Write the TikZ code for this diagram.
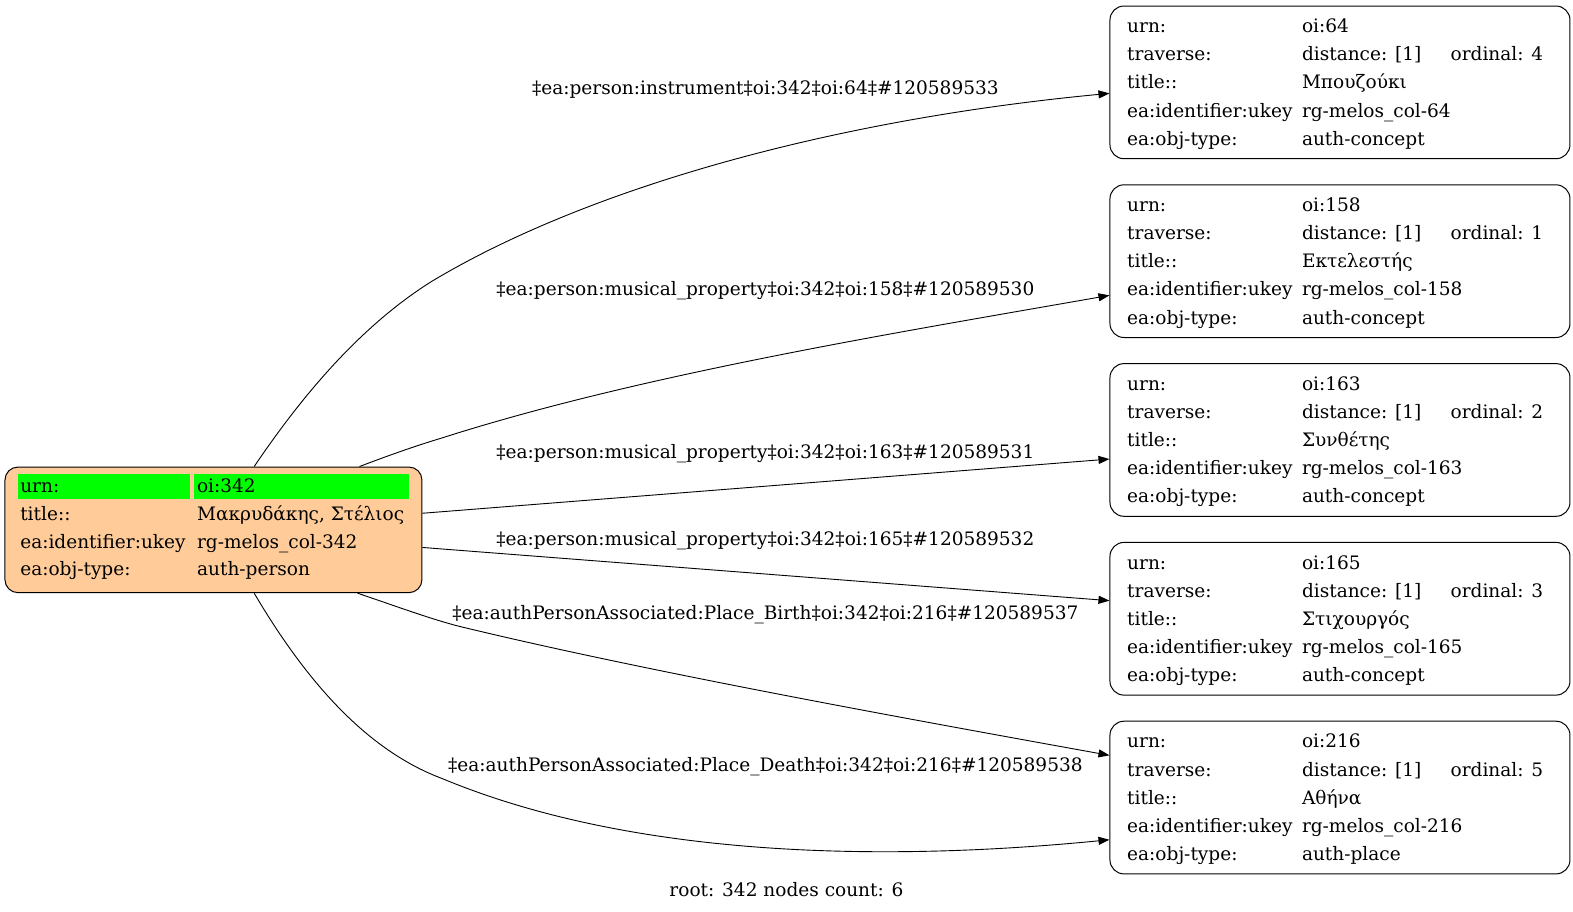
\documentclass[tikz,border=0pt]{standalone}
\usepackage{fontspec}
\setmainfont{DejaVu Serif}
\usetikzlibrary{arrows.meta}
\definecolor{peach}{HTML}{FFCC99}
\definecolor{cellgreen}{HTML}{00FF00}
\begin{document}
\begin{tikzpicture}[x=1.0045bp,y=-1.0045bp,
  txt/.style={inner sep=0pt,anchor=mid west,font=\fontsize{18.6}{22}\selectfont},
  lbl/.style={inner sep=0pt,anchor=mid,font=\fontsize{18.6}{22}\selectfont},
  rootbox/.style={draw=black,line width=1bp,fill=peach,rounded corners=13bp,minimum width=417bp,minimum height=125.6bp,inner sep=0pt},
  tbox/.style={draw=black,line width=1bp,rounded corners=14bp,minimum width=460bp,minimum height=152.7bp,inner sep=0pt},
  edge/.style={draw=black,line width=0.9bp,-{Triangle[length=11bp,width=8bp]}}]
\useasboundingbox (0,0) rectangle (1566,907);
% root
\node[rootbox] (root) at (212.5,527.5) {};
\fill[cellgreen] (18,472) rectangle (189,497);
\fill[cellgreen] (193,472) rectangle (407,497);
\node[txt] (r1a) at (20,488) {urn:};
\node[txt] (r1b) at (196,488) {oi:342};
\node[txt] (r2a) at (20,515.5) {title::};
\node[txt] (r2b) at (196,515.5) {Μακρυδάκης, Στέλιος};
\node[txt] (r3a) at (20,543) {ea:identifier:ukey};
\node[txt] (r3b) at (196,543) {rg-melos\_col-342};
\node[txt] (r4a) at (20,570.5) {ea:obj-type:};
\node[txt] (r4b) at (196,570.5) {auth-person};
% targets
\foreach \i/\oi/\ord/\ttl/\typ in {1/64/4/Μπουζούκι/auth-concept,2/158/1/Εκτελεστής/auth-concept,3/163/2/Συνθέτης/auth-concept,4/165/3/Στιχουργός/auth-concept,5/216/5/Αθήνα/auth-place}{
  \pgfmathsetmacro{\cy}{82+178*(\i-1)}
  \pgfmathsetmacro{\ty}{\cy+4}
  \node[tbox] (t\i) at (1334,\cy) {};
  \node[txt] (t\i a1) at (1122,\ty-56) {urn:};
  \node[txt] (t\i b1) at (1296,\ty-56) {oi:\oi};
  \node[txt] (t\i a2) at (1122,\ty-28) {traverse:};
  \node[txt] (t\i b2) at (1296,\ty-28) {distance: [1]};
  \node[txt] (t\i c2) at (1444,\ty-28) {ordinal: \ord};
  \node[txt] (t\i a3) at (1122,\ty) {title::};
  \node[txt] (t\i b3) at (1296,\ty) {\ttl};
  \node[txt] (t\i a4) at (1122,\ty+28) {ea:identifier:ukey};
  \node[txt] (t\i b4) at (1296,\ty+28) {rg-melos\_col-\oi};
  \node[txt] (t\i a5) at (1122,\ty+56) {ea:obj-type:};
  \node[txt] (t\i b5) at (1296,\ty+56) {\typ};
}
% edges
\draw[edge] ([xshift=40.7bp]root.north) .. controls (290,410) and (350,330) .. (430,280)
  .. controls (580,190) and (820,120) .. ([yshift=-11bp]t1.west);
\draw[edge] ([xshift=146bp]root.north) .. controls (380,456) and (410,445) .. (440,436)
  .. controls (640,372) and (900,330) .. ([yshift=-34.2bp]t2.west);
\draw[edge] ([yshift=16.6bp]root.east) -- ([yshift=-19.1bp]t3.west);
\draw[edge] ([yshift=-17.6bp]root.east) -- ([yshift=18.1bp]t4.west);
\draw[edge] ([xshift=144bp]root.south) .. controls (390,602) and (425,615) .. (455,623)
  .. controls (640,668) and (900,715) .. ([yshift=42.2bp]t5.west);
\draw[edge] ([xshift=40.7bp]root.south) .. controls (300,670) and (360,745) .. (440,775)
  .. controls (620,850) and (860,860) .. ([yshift=-42.2bp]t5.west);
% labels
\node[lbl] (l1) at (762,92) {‡ea:person:instrument‡oi:342‡oi:64‡\#120589533};
\node[lbl] (l2) at (762,292) {‡ea:person:musical\_property‡oi:342‡oi:158‡\#120589530};
\node[lbl] (l3) at (762,454) {‡ea:person:musical\_property‡oi:342‡oi:163‡\#120589531};
\node[lbl] (l4) at (762,540) {‡ea:person:musical\_property‡oi:342‡oi:165‡\#120589532};
\node[lbl] (l5) at (762,614) {‡ea:authPersonAssociated:Place\_Birth‡oi:342‡oi:216‡\#120589537};
\node[lbl] (l6) at (762,765) {‡ea:authPersonAssociated:Place\_Death‡oi:342‡oi:216‡\#120589538};
\node[lbl] (cap) at (783,890) {root: 342 nodes count: 6};
\end{tikzpicture}
\end{document}
